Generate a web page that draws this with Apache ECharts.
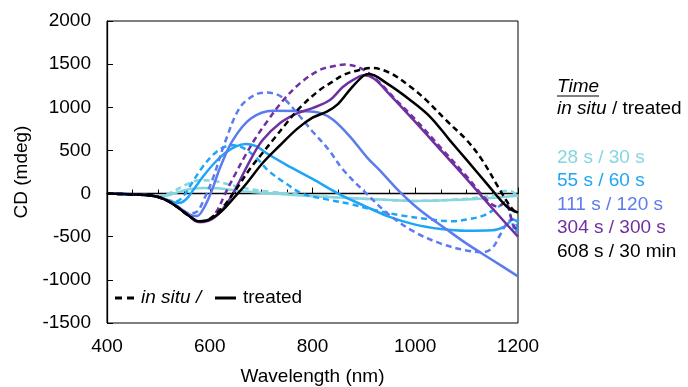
<!DOCTYPE html>
<html>
<head>
<meta charset="utf-8">
<script src="https://cdn.jsdelivr.net/npm/echarts@6/dist/echarts.min.js"></script>
<style>html,body{margin:0;padding:0;background:#fff;}#c{width:688px;height:387px;}</style>
</head>
<body>
<div id="c"></div>
<script>
// ---- data (wavelength nm, CD mdeg) ----
const xTicks = [400, 600, 800, 1000, 1200];
const yTicks = [-1500, -1000, -500, 0, 500, 1000, 1500, 2000];

const cyanSolidX = [400,450,480,500,520,540,560,590,620,660,700,800,900,1000,1100,1160,1200];
const cyanSolidY = [0,-8,-20,-30,-20,20,50,65,60,30,10,-30,-60,-85,-70,-45,-25];
const cyanDashX = [400,450,480,500,520,540,560,580,610,640,680,720,800,900,1000,1100,1150,1170,1185,1200];
const cyanDashY = [0,-8,-20,-30,0,60,120,155,145,100,50,20,-25,-60,-85,-60,-20,30,30,-40];

const skySolidX = [400,450,480,500,520,540,555,570,590,610,630,650,670,690,710,750,800,850,900,950,1000,1050,1100,1150,1175,1190,1200];
const skySolidY = [0,-8,-20,-40,-80,-110,-60,60,220,360,470,545,575,550,470,330,170,0,-140,-270,-360,-410,-430,-425,-380,-300,-330];
const skyDashX = [400,450,480,500,520,535,550,565,585,605,625,645,665,690,715,750,780,830,873,920,970,1030,1070,1110,1135,1160,1175,1185,1195,1200];
const skyDashY = [0,-8,-20,-40,-80,-90,-20,120,300,440,530,560,530,420,260,110,0,-70,-120,-190,-250,-300,-320,-290,-250,-160,-110,-250,-450,-300];

const blueSolidX = [400,450,480,500,520,540,560,575,590,605,620,645,680,723,780,814,840,873,906,931,970,1009,1062,1100,1150,1200];
const blueSolidY = [0,-10,-20,-40,-85,-160,-240,-260,-150,50,300,620,870,960,955,935,855,660,420,270,20,-190,-420,-580,-770,-960];
const blueDashX = [400,450,480,500,520,540,560,575,590,607,630,659,690,711,740,776,800,830,860,905,950,1000,1050,1100,1130,1150,1165,1180,1190,1200];
const blueDashY = [0,-10,-20,-40,-85,-160,-230,-210,-50,190,600,1000,1150,1170,1120,890,720,520,273,0,-250,-450,-580,-660,-680,-630,-480,-330,-300,-400];

const purpleSolidX = [400,450,480,500,520,540,560,578,592,615,635,652,680,703,737,770,800,834,859,880,900,920,950,1000,1050,1100,1150,1200];
const purpleSolidY = [0,-10,-20,-40,-90,-170,-260,-330,-325,-250,-100,76,400,620,818,930,990,1085,1235,1320,1370,1330,1150,830,500,170,-170,-500];
const purpleDashX = [400,450,480,500,520,540,560,578,592,612,630,650,670,690,711,740,776,814,840,862,898,930,960,1000,1050,1100,1140,1160,1175,1190,1200];
const purpleDashY = [0,-10,-20,-40,-90,-170,-260,-330,-325,-220,0,230,450,650,830,1060,1280,1432,1475,1495,1440,1290,1100,860,530,200,-80,-150,-100,-350,-450];

const blackSolidX = [400,450,480,500,520,540,560,578,592,620,650,672,703,737,770,800,828,850,875,900,910,944,990,1029,1067,1100,1140,1178,1200];
const blackSolidY = [0,-10,-20,-40,-90,-170,-260,-320,-315,-220,-30,120,354,560,750,880,950,1040,1220,1370,1385,1280,1085,890,620,390,110,-150,-220];
const blackDashX = [400,450,480,500,520,540,560,578,598,625,650,680,700,723,750,776,814,840,860,890,915,950,990,1022,1060,1100,1130,1165,1185,1200];
const blackDashY = [0,-10,-20,-40,-90,-170,-260,-320,-300,-160,40,300,450,620,820,1000,1200,1300,1375,1430,1455,1400,1240,1080,850,620,390,40,-150,-250];

const seriesNames = ['28 s / 30 s', '55 s / 60 s', '111 s / 120 s', '304 s / 300 s', '608 s / 30 min'];
const seriesColors = ['#86D6DF', '#1FA5F7', '#5B7BEF', '#7030A0', '#000000'];

// ---- build ----
function pairs(xs, ys) { return xs.map((x, i) => [x, ys[i]]); }
const solids = [pairs(cyanSolidX, cyanSolidY), pairs(skySolidX, skySolidY), pairs(blueSolidX, blueSolidY), pairs(purpleSolidX, purpleSolidY), pairs(blackSolidX, blackSolidY)];
const dashes = [pairs(cyanDashX, cyanDashY), pairs(skyDashX, skyDashY), pairs(blueDashX, blueDashY), pairs(purpleDashX, purpleDashY), pairs(blackDashX, blackDashY)];

const series = [];
for (let i = 0; i < 5; i++) {
  series.push({ name: seriesNames[i] + ' treated', type: 'line', data: solids[i], showSymbol: false, smooth: 0.35,
    lineStyle: { color: seriesColors[i], width: 2.5 }, z: 2 + i * 2 });
  series.push({ name: seriesNames[i] + ' in situ', type: 'line', data: dashes[i], showSymbol: false, smooth: 0.35,
    lineStyle: { color: seriesColors[i], width: 2.5, type: [6, 4] }, z: 3 + i * 2 });
}

const font = 'Liberation Sans, Arial, sans-serif';
const fs = 19;
const legendTexts = [];
for (let i = 0; i < 5; i++) {
  legendTexts.push({ type: 'text', left: 557, top: 148 + i * 23.5,
    style: { text: seriesNames[i], fill: seriesColors[i], font: fs + 'px ' + font } });
}

const chart = echarts.init(document.getElementById('c'), null, { renderer: 'canvas' });
chart.setOption({
  animation: false,
  backgroundColor: '#fff',
  grid: { left: 107, right: 170, top: 21, bottom: 64, show: true, borderColor: '#000', borderWidth: 1,
    containLabel: false, outerBoundsMode: 'none' },
  xAxis: {
    type: 'value', min: xTicks[0], max: xTicks[xTicks.length - 1], interval: 200,
    name: 'Wavelength (nm)', nameLocation: 'middle', nameGap: 44,
    nameTextStyle: { fontSize: fs, color: '#000', fontFamily: font },
    axisLine: { show: true, lineStyle: { color: '#000', width: 1.3 } },
    axisTick: { show: true, inside: true, length: 6, lineStyle: { color: '#000' } },
    minorTick: { show: true, splitNumber: 4, length: 4, lineStyle: { color: '#000' } },
    axisLabel: { fontSize: fs, color: '#000', fontFamily: font, margin: 14, formatter: v => String(v) },
    splitLine: { show: false }
  },
  yAxis: {
    type: 'value', min: yTicks[0], max: yTicks[yTicks.length - 1], interval: 500,
    name: 'CD (mdeg)', nameLocation: 'middle', nameGap: 69,
    nameTextStyle: { fontSize: fs, color: '#000', fontFamily: font },
    axisLine: { show: true, lineStyle: { color: '#000', width: 1.3 } },
    axisTick: { show: true, inside: true, length: 6, lineStyle: { color: '#000' } },
    axisLabel: { fontSize: fs, color: '#000', fontFamily: font, margin: 16, formatter: v => String(v) },
    splitLine: { show: false }
  },
  series: series,
  graphic: [
    { type: 'text', left: 557, top: 77, style: { text: 'Time', fill: '#000', font: 'italic ' + fs + 'px ' + font } },
    { type: 'line', shape: { x1: 557, y1: 96, x2: 599, y2: 96 }, style: { stroke: '#000', lineWidth: 1.2 } },
    { type: 'text', left: 557, top: 99, style: { text: '{i|in situ} / treated', fill: '#000', font: fs + 'px ' + font,
      rich: { i: { fontStyle: 'italic', fontSize: fs, fontFamily: font, fill: '#000' } } } },
    ...legendTexts,
    { type: 'line', shape: { x1: 115, y1: 298, x2: 134, y2: 298 }, style: { stroke: '#000', lineWidth: 3, lineDash: [7, 5] } },
    { type: 'text', left: 141, top: 288, style: { text: 'in situ /', fill: '#000', font: 'italic ' + fs + 'px ' + font } },
    { type: 'line', shape: { x1: 215, y1: 298, x2: 236, y2: 298 }, style: { stroke: '#000', lineWidth: 3 } },
    { type: 'text', left: 243, top: 288, style: { text: 'treated', fill: '#000', font: fs + 'px ' + font } }
  ]
});
</script>
</body>
</html>
